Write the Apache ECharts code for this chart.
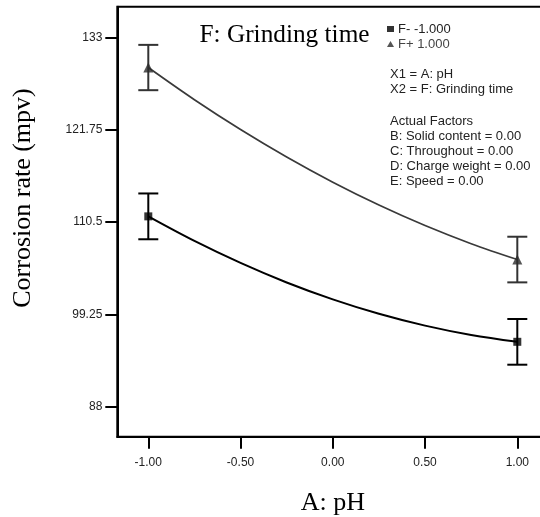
<!DOCTYPE html>
<html>
<head>
<meta charset="utf-8">
<script src="https://cdn.jsdelivr.net/npm/echarts@6/dist/echarts.min.js"></script>
<style>
html,body{margin:0;padding:0;background:#fff;}
#chart{width:540px;height:517px;}
</style>
</head>
<body>
<div id="chart"></div>
<script>
// ---- data ----
const curveX = [-1, -0.75, -0.5, -0.25, 0, 0.25, 0.5, 0.75, 1];
const fPlusCurve  = [129.32, 125.40, 121.77, 118.42, 115.35, 112.57, 110.07, 107.86, 105.93];
const fMinusCurve = [111.19, 108.20, 105.52, 103.14, 101.08, 99.32, 97.88, 96.74, 95.91];

const designX = [-1, 1];
const fPlusPts  = [129.32, 105.93];
const fPlusLo   = [126.56, 103.15];
const fPlusHi   = [132.08, 108.71];
const fMinusPts = [111.19, 95.91];
const fMinusLo  = [108.40, 93.12];
const fMinusHi  = [113.98, 98.69];

const xTicks = [-1, -0.5, 0, 0.5, 1];
const yTicks = [88, 99.25, 110.5, 121.75, 133];

const seriesNames = ['F- -1.000', 'F+ 1.000'];
const titleText = 'F: Grinding time';
const xTitle = 'A: pH';
const yTitle = 'Corrosion rate (mpv)';
const notes = ['X1 = A: pH', 'X2 = F: Grinding time', 'Actual Factors',
  'B: Solid content = 0.00', 'C: Throughout = 0.00', 'D: Charge weight = 0.00', 'E: Speed = 0.00'];

// ---- build ----
const zip = (xs, ys) => xs.map((x, i) => [x, ys[i]]);
const errData = (lo, hi) => designX.map((x, i) => [x, lo[i], hi[i]]);

function errRender(color) {
  return function (params, api) {
    const x = api.value(0);
    const lo = api.coord([x, api.value(1)]);
    const hi = api.coord([x, api.value(2)]);
    const hw = 10;
    const st = { stroke: color, lineWidth: 2 };
    return {
      type: 'group',
      children: [
        { type: 'line', shape: { x1: lo[0], y1: lo[1], x2: hi[0], y2: hi[1] }, style: st },
        { type: 'line', shape: { x1: lo[0] - hw, y1: lo[1], x2: lo[0] + hw, y2: lo[1] }, style: st },
        { type: 'line', shape: { x1: hi[0] - hw, y1: hi[1], x2: hi[0] + hw, y2: hi[1] }, style: st }
      ]
    };
  };
}

const sans = 'Liberation Sans, Arial, sans-serif';
const serif = 'Liberation Serif, Times New Roman, serif';
const noteY = [75, 90, 122, 137, 152, 167, 182];

const graphics = notes.map((t, i) => ({
  type: 'text', left: 390, top: noteY[i] - 7.5,
  style: { text: t, font: '13px ' + sans, fill: '#222' }
}));
graphics.push({
  type: 'text', x: 23, y: 198, rotation: Math.PI / 2,
  style: { text: yTitle, font: '26px ' + serif, fill: '#000', align: 'center', verticalAlign: 'middle' }
});

const chart = echarts.init(document.getElementById('chart'), null, { renderer: 'canvas' });
chart.setOption({
  animation: false,
  backgroundColor: '#fff',
  title: {
    text: titleText, left: 199.5, top: 23, padding: 0,
    textStyle: { fontFamily: serif, fontSize: 25.3, fontWeight: 'normal', color: '#000' }
  },
  legend: {
    data: [
      { name: seriesNames[0], icon: 'rect', textStyle: { color: '#222' } },
      { name: seriesNames[1], icon: 'triangle', textStyle: { color: '#444' } }
    ],
    orient: 'vertical', left: 387, top: 21.5, padding: 0, itemGap: 0,
    itemWidth: 7, itemHeight: 6,
    textStyle: { fontFamily: sans, fontSize: 13, lineHeight: 15, padding: [0, 0, 0, -1] }
  },
  grid: {
    left: 117.3, top: 6.7, width: 431, height: 430,
    show: true, borderColor: '#000', borderWidth: 2, containLabel: false,
    outerBoundsMode: 'none'
  },
  xAxis: {
    type: 'value', min: -1.168, max: 1.168,
    name: xTitle, nameLocation: 'middle', nameGap: 53,
    nameTextStyle: { fontFamily: serif, fontSize: 26, color: '#000' },
    axisLine: { show: true, onZero: false, lineStyle: { color: '#000', width: 2 } },
    axisTick: { show: true, inside: false, length: 12, lineStyle: { color: '#000', width: 2 }, customValues: xTicks },
    axisLabel: { customValues: xTicks, margin: 20, fontFamily: sans, fontSize: 12, color: '#222',
      formatter: v => v.toFixed(2) },
    splitLine: { show: false }
  },
  yAxis: {
    type: 'value', min: 84.35, max: 136.73,
    axisLine: { show: true, onZero: false, lineStyle: { color: '#000', width: 2 } },
    axisTick: { show: true, inside: false, length: 12, lineStyle: { color: '#000', width: 2 }, customValues: yTicks },
    axisLabel: { customValues: yTicks, margin: 15, fontFamily: sans, fontSize: 12, color: '#222',
      formatter: v => String(v) },
    splitLine: { show: false }
  },
  graphic: graphics,
  series: [
    { type: 'line', name: 'curveMinus', data: zip(curveX, fMinusCurve), smooth: 0.35, showSymbol: false,
      lineStyle: { color: '#000', width: 2 }, z: 2 },
    { type: 'line', name: 'curvePlus', data: zip(curveX, fPlusCurve), smooth: 0.35, showSymbol: false,
      lineStyle: { color: '#3a3a3a', width: 1.7 }, z: 2 },
    { type: 'custom', name: 'errMinus', data: errData(fMinusLo, fMinusHi), renderItem: errRender('#000'), z: 3 },
    { type: 'custom', name: 'errPlus', data: errData(fPlusLo, fPlusHi), renderItem: errRender('#333'), z: 3 },
    { type: 'scatter', name: seriesNames[0], data: zip(designX, fMinusPts), symbol: 'rect', symbolSize: 8,
      itemStyle: { color: '#000' }, z: 4 },
    { type: 'scatter', name: seriesNames[1], data: zip(designX, fPlusPts), symbol: 'triangle', symbolSize: [10, 10],
      itemStyle: { color: '#2a2a2a' }, z: 4 }
  ]
});
</script>
</body>
</html>
